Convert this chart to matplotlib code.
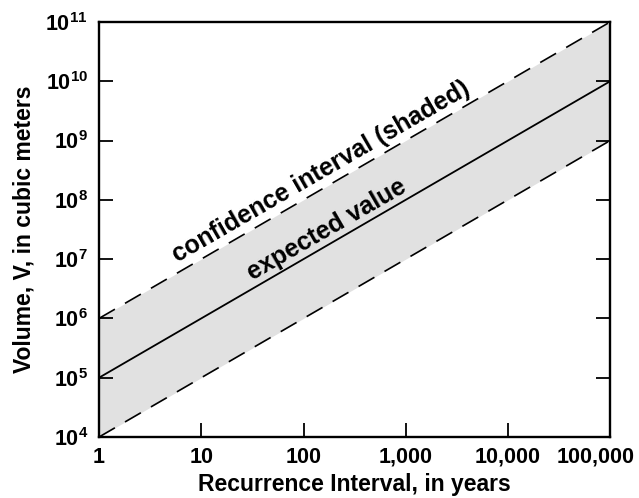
import math
import matplotlib
matplotlib.use("Agg")
import matplotlib.pyplot as plt
import matplotlib.transforms as mtransforms
from matplotlib.ticker import FixedLocator, FuncFormatter, NullLocator

# Data: recurrence interval (years) vs volume (cubic meters)
interval = [1, 100000]
expected = [1e5, 1e10]
lower = [1e4, 1e9]
upper = [1e6, 1e11]

x_ticks = [1, 10, 100, 1000, 10000, 100000]
x_tick_labels = ["1", "10", "100", "1,000", "10,000", "100,000"]
y_ticks = [1e4, 1e5, 1e6, 1e7, 1e8, 1e9, 1e10, 1e11]

plt.rcParams["font.family"] = ["Liberation Sans", "DejaVu Sans"]
plt.rcParams["font.weight"] = "bold"
plt.rcParams["mathtext.fontset"] = "custom"
plt.rcParams["mathtext.rm"] = "Liberation Sans:bold"
plt.rcParams["mathtext.bf"] = "Liberation Sans:bold"
plt.rcParams["mathtext.it"] = "Liberation Sans:bold"

fig = plt.figure(figsize=(6.39, 4.98), dpi=100)
ax = fig.add_axes([0.155, 0.1225, 0.8, 0.8335])
ax.set_xscale("log")
ax.set_yscale("log")

# shaded confidence interval
ax.fill_between(interval, lower, upper, color="#e1e1e1", linewidth=0, zorder=1)
ax.plot(interval, upper, color="black", lw=1.2, linestyle=(0, (11, 7)), zorder=2)
ax.plot(interval, lower, color="black", lw=1.2, linestyle=(0, (11, 7)), zorder=2)
ax.plot(interval, expected, color="black", lw=1.3, zorder=3)

ax.set_xlim(1, 100000)
ax.set_ylim(1e4, 1e11)

ax.xaxis.set_major_locator(FixedLocator(x_ticks))
ax.xaxis.set_major_formatter(FuncFormatter(
    lambda v, p: x_tick_labels[x_ticks.index(round(v))] if round(v) in x_ticks else ""))
ax.xaxis.set_minor_locator(NullLocator())
ax.yaxis.set_major_locator(FixedLocator(y_ticks))
ax.yaxis.set_major_formatter(FuncFormatter(lambda v, p: r"$\mathbf{10^{%d}}$" % round(math.log10(v))))
ax.yaxis.set_minor_locator(NullLocator())

ax.tick_params(axis="both", which="major", direction="in", length=10, width=1.3,
               labelsize=15.5)
ax.tick_params(axis="x", pad=7)
ax.tick_params(axis="y", right=True, left=True, pad=8)
ax.tick_params(axis="x", top=False)
for s in ax.spines.values():
    s.set_linewidth(1.7)

# pull the last x label inward so it stays on the canvas
fig.canvas.draw()
last = ax.get_xticklabels()[-1]
last.set_transform(last.get_transform() + mtransforms.ScaledTranslation(-15 / 100, 0, fig.dpi_scale_trans))

ax.set_xlabel("Recurrence Interval, in years", fontsize=16.5, fontweight="bold", labelpad=4)
ax.set_ylabel("Volume, V, in cubic meters", fontsize=16.5, fontweight="bold", labelpad=7)

ax.text(148, 10**8.47, "confidence interval (shaded)", fontsize=18, fontweight="bold",
        rotation=30, rotation_mode="anchor", ha="center", va="center")
ax.text(170, 10**7.49, "expected value", fontsize=18, fontweight="bold",
        rotation=30, rotation_mode="anchor", ha="center", va="center")

fig.savefig("out.png", dpi=100)
